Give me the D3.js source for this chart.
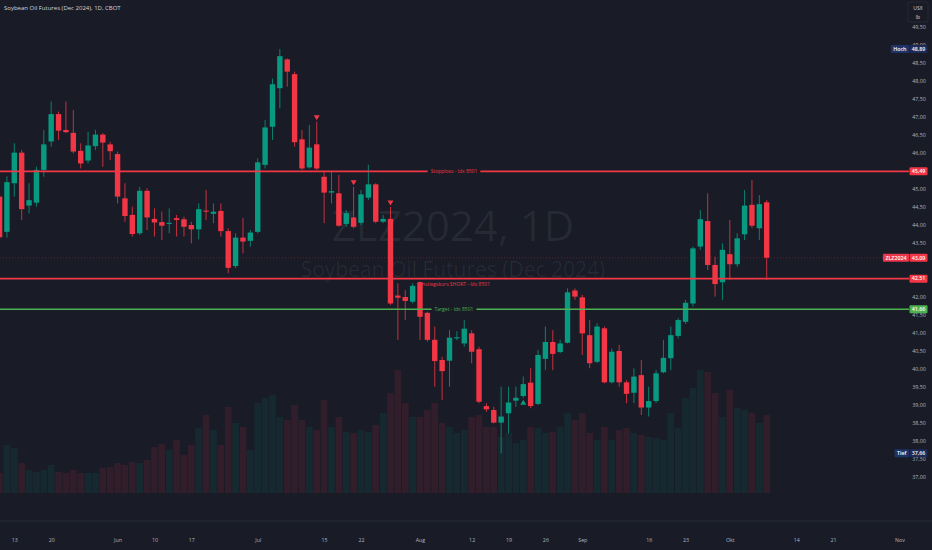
<!DOCTYPE html>
<html><head><meta charset="utf-8">
<script src="https://cdn.jsdelivr.net/npm/d3@7"></script>
<style>html,body{margin:0;padding:0;background:#191c27;overflow:hidden}svg{display:block}</style>
</head><body>
<svg id="c" width="932" height="550"></svg>
<script>
// ---- data ----
const dates = ["2024-05-09","2024-05-10","2024-05-13","2024-05-14","2024-05-15","2024-05-16","2024-05-17","2024-05-20","2024-05-21","2024-05-22","2024-05-23","2024-05-24","2024-05-28","2024-05-29","2024-05-30","2024-05-31","2024-06-03","2024-06-04","2024-06-05","2024-06-06","2024-06-07","2024-06-10","2024-06-11","2024-06-12","2024-06-13","2024-06-14","2024-06-17","2024-06-18","2024-06-20","2024-06-21","2024-06-24","2024-06-25","2024-06-26","2024-06-27","2024-06-28","2024-07-01","2024-07-02","2024-07-03","2024-07-05","2024-07-08","2024-07-09","2024-07-10","2024-07-11","2024-07-12","2024-07-15","2024-07-16","2024-07-17","2024-07-18","2024-07-19","2024-07-22","2024-07-23","2024-07-24","2024-07-25","2024-07-26","2024-07-29","2024-07-30","2024-07-31","2024-08-01","2024-08-02","2024-08-05","2024-08-06","2024-08-07","2024-08-08","2024-08-09","2024-08-12","2024-08-13","2024-08-14","2024-08-15","2024-08-16","2024-08-19","2024-08-20","2024-08-21","2024-08-22","2024-08-23","2024-08-26","2024-08-27","2024-08-28","2024-08-29","2024-08-30","2024-09-03","2024-09-04","2024-09-05","2024-09-06","2024-09-09","2024-09-10","2024-09-11","2024-09-12","2024-09-13","2024-09-16","2024-09-17","2024-09-18","2024-09-19","2024-09-20","2024-09-23","2024-09-24","2024-09-25","2024-09-26","2024-09-27","2024-09-30","2024-10-01","2024-10-02","2024-10-03","2024-10-04","2024-10-07","2024-10-08"];
const opens  = [44.79,43.81,45.16,46.01,44.54,44.62,45.53,46.32,47.08,46.64,46.56,46.06,45.79,46.19,46.51,46.24,45.97,44.74,44.28,43.77,44.95,44.17,44.08,44.03,44.19,44.16,44.00,43.88,44.40,44.31,44.39,43.83,42.86,43.65,43.56,43.81,45.67,46.73,47.80,48.60,48.19,46.38,45.60,46.24,45.34,44.90,44.88,44.03,44.21,44.06,44.76,45.13,44.09,44.17,42.04,42.00,41.87,42.41,41.56,40.81,40.25,40.23,40.85,40.71,40.99,40.55,38.97,38.86,38.51,38.77,39.12,39.25,39.62,39.03,40.28,40.75,40.47,40.73,42.18,41.99,40.94,40.20,41.13,39.63,40.50,39.63,39.34,39.83,38.93,39.11,39.91,40.30,40.92,41.31,41.82,43.40,44.11,42.89,42.41,43.19,42.91,43.74,44.56,43.91,44.63];
const highs  = [44.95,45.35,46.27,46.08,45.16,45.62,46.64,47.43,47.15,47.43,47.19,46.27,46.59,46.64,46.55,46.31,46.04,45.16,44.51,45.06,45.02,44.46,44.37,44.46,44.28,44.23,44.09,44.60,44.97,44.60,44.60,43.91,43.77,44.19,43.86,45.85,46.92,48.07,48.89,48.63,48.26,46.64,46.78,46.87,45.48,45.48,45.39,44.42,45.06,44.97,45.67,45.16,44.28,44.50,42.38,42.19,42.38,42.43,41.59,41.18,40.34,41.08,41.05,41.36,41.08,40.62,39.05,38.95,39.51,39.51,39.51,39.79,40.02,40.53,41.18,41.08,40.81,42.24,42.24,42.06,41.36,41.27,41.18,40.57,40.67,39.69,40.02,40.25,39.51,39.97,40.81,41.18,41.41,41.92,43.40,44.42,44.88,43.12,43.49,44.14,43.77,44.97,45.25,44.83,44.69];
const lows   = [43.50,43.65,44.79,44.14,44.32,44.51,45.34,46.18,46.36,46.55,45.99,45.57,45.71,46.08,45.62,45.81,44.60,44.09,43.68,43.72,43.86,43.68,43.58,43.77,43.68,43.68,43.49,43.60,44.14,44.05,43.68,42.66,42.80,43.21,43.40,43.77,45.57,46.36,47.24,47.84,46.18,45.53,45.57,45.53,44.05,44.60,43.95,43.95,43.91,44.00,44.69,44.05,44.05,41.78,40.81,41.36,41.82,40.81,40.76,39.51,39.14,39.51,40.80,40.62,40.16,39.05,38.81,38.49,37.66,38.21,38.95,39.19,38.91,39.00,39.97,39.97,40.44,40.71,41.92,40.39,40.02,40.16,39.60,39.60,39.51,39.05,39.05,38.72,38.68,39.05,39.88,39.97,40.85,41.25,41.73,43.31,42.75,42.01,41.92,42.47,42.84,43.58,43.91,43.58,42.47];
const closes = [43.66,45.19,46.01,44.44,44.69,45.53,46.24,47.08,46.62,46.58,46.04,45.71,46.21,46.51,46.29,46.05,44.79,44.25,43.75,44.95,44.21,44.07,43.98,44.06,44.14,43.95,43.88,44.44,44.37,44.37,43.83,42.81,43.65,43.54,43.79,45.74,46.71,47.91,48.69,48.26,46.30,45.57,46.15,45.57,44.90,44.94,43.98,44.33,43.95,44.85,45.13,44.09,44.17,41.82,41.98,41.89,42.31,41.45,40.81,40.22,39.94,40.87,40.88,41.12,40.48,39.09,38.88,38.51,38.68,39.07,39.20,39.58,38.97,40.39,40.75,40.42,40.71,42.13,42.01,40.99,40.16,41.18,39.63,40.48,39.63,39.31,39.79,38.93,39.11,39.88,40.31,40.94,41.36,41.84,43.35,44.16,42.89,42.36,43.31,42.91,43.63,44.54,43.98,44.58,43.09];
const volumes = [8000,19200,18000,12000,9200,8400,9200,11200,8400,8000,9200,8000,8000,8000,10000,10400,12000,11200,12400,12000,13200,18400,19600,17200,21200,15200,19200,26000,31200,25200,19200,34400,28000,26400,17200,36000,38000,39200,30400,29200,35200,29200,26400,25200,37200,26400,30400,24400,24000,25200,24400,27200,32000,40000,49200,36000,30400,30400,33200,36000,28000,26400,24000,25200,30400,31200,26400,26400,22400,24000,20000,21200,26400,26000,24000,24400,26400,32000,29200,32000,24000,21200,26400,21200,25200,26000,24000,23200,22400,22000,21200,32000,26000,38000,42000,49200,48400,40000,30400,41200,34000,33200,32000,28000,31200];

const tickBars   = [2,7,16,21,26,35,44,49,57,64,69,74,79,88,93,99,108,113,122];
const tickLabels = ["13","20","Jun","10","17","Jul","15","22","Aug","12","19","26","Sep","16","23","Okt","14","21","Nov"];
const priceTicks = [37,37.5,38,38.5,39,39.5,40,40.5,41,41.5,42,42.5,43,43.5,44,44.5,45,45.5,46,46.5,47,47.5,48,48.5,49,49.5];

const levelValues = [45.49, 42.51, 41.66];
const levelNames  = ["Stopploss - Idx 8501", "Einstiegskurs SHORT - Idx 8501", "Target - Idx 8501"];
const levelColors = ["#f23645", "#f23645", "#4caf50"];
const levelLabelBelow = [false, true, false];

const markerBars  = [43, 48, 53, 71];
const markerTypes = ["sell", "sell", "sell", "buy"];

const titleText = "Soybean Oil Futures (Dec 2024), 1D, CBOT";
const symbol = "ZLZ2024";
const highValue = 48.89, lowValue = 37.66;

// ---- drawing ----
const W = 932, H = 550;
const UP = "#089981", DOWN = "#f23645";
const FONT = "'Open Sans', 'Noto Sans', sans-serif";
const svg = d3.select("#c");
const fmt = v => v.toFixed(2).replace(".", ",");

const x = d3.scaleLinear().domain([2, 104]).range([14.3, 766.7]);
const y = d3.scaleLinear().domain([40, 48]).range([369, 81]);
const yv = d3.scaleLinear().domain([0, 49200]).range([493, 370]);

const n = dates.length;
const bars = d3.range(n).map(i => ({i, o: opens[i], h: highs[i], l: lows[i], c: closes[i], v: volumes[i], date: dates[i]}));
const paneRight = 909;
const last = bars[n - 1];

svg.append("rect").attr("width", W).attr("height", H).attr("fill", "#191c27");

// watermark
svg.append("text").attr("x", 453).attr("y", 241).attr("text-anchor", "middle")
  .attr("font-family", FONT).attr("font-size", 42).attr("fill", "#ffffff").attr("fill-opacity", 0.06)
  .text(symbol + ", 1D");
svg.append("text").attr("x", 453).attr("y", 276.5).attr("text-anchor", "middle")
  .attr("font-family", FONT).attr("font-size", 21).attr("fill", "#ffffff").attr("fill-opacity", 0.06)
  .text("Soybean Oil Futures (Dec 2024)");

// volume
svg.append("g").selectAll("rect").data(bars).join("rect")
  .attr("x", d => x(d.i) - 3.3).attr("width", 6.6)
  .attr("y", d => yv(d.v)).attr("height", d => yv(0) - yv(d.v))
  .attr("fill", d => d.c >= d.o ? UP : DOWN).attr("fill-opacity", 0.11);

// bottom separator
svg.append("line").attr("x1", 0).attr("x2", W).attr("y1", 521).attr("y2", 521)
  .attr("stroke", "#262a36").attr("stroke-width", 1);

// last price dotted line
svg.append("line").attr("x1", 0).attr("x2", paneRight - 26).attr("y1", y(last.c)).attr("y2", y(last.c))
  .attr("stroke", "#f23645").attr("stroke-opacity", 0.3).attr("stroke-dasharray", "1,2");

// candles
const cg = svg.append("g");
cg.selectAll("line").data(bars).join("line")
  .attr("x1", d => x(d.i)).attr("x2", d => x(d.i))
  .attr("y1", d => y(d.h)).attr("y2", d => y(d.l))
  .attr("stroke", d => d.c >= d.o ? UP : DOWN).attr("stroke-width", 1).attr("stroke-opacity", 0.8);
cg.selectAll("rect").data(bars).join("rect")
  .attr("x", d => x(d.i) - 2.7).attr("width", 5.4)
  .attr("y", d => y(Math.max(d.o, d.c)))
  .attr("height", d => Math.max(1, Math.abs(y(d.o) - y(d.c))))
  .attr("fill", d => d.c >= d.o ? UP : DOWN);

// markers
const mg = svg.append("g");
markerBars.forEach((b, k) => {
  const cx = x(b);
  if (markerTypes[k] === "sell") {
    const cy = y(highs[b]) - 4;
    mg.append("path").attr("d", `M${cx - 3},${cy - 2.5}L${cx + 3},${cy - 2.5}L${cx},${cy + 2.5}Z`).attr("fill", DOWN);
  } else {
    const cy = y(lows[b]) + 4;
    mg.append("path").attr("d", `M${cx - 3},${cy + 2.5}L${cx + 3},${cy + 2.5}L${cx},${cy - 2.5}Z`).attr("fill", UP);
  }
});

// level lines with labels
const lg = svg.append("g");
levelValues.forEach((v, k) => {
  const yy = y(v);
  const t = lg.append("text").attr("font-family", FONT).attr("font-size", 5)
    .attr("fill", levelColors[k]).text(levelNames[k]);
  const tw = t.node().getComputedTextLength();
  const cx = 454;
  if (levelLabelBelow[k]) {
    t.attr("x", cx).attr("y", yy + 7.5).attr("text-anchor", "middle");
    lg.append("line").attr("x1", 0).attr("x2", paneRight).attr("y1", yy).attr("y2", yy)
      .attr("stroke", levelColors[k]).attr("stroke-width", 1.6);
  } else {
    t.attr("x", cx).attr("y", yy + 1.8).attr("text-anchor", "middle");
    lg.append("line").attr("x1", 0).attr("x2", cx - tw / 2 - 3).attr("y1", yy).attr("y2", yy)
      .attr("stroke", levelColors[k]).attr("stroke-width", 1.6);
    lg.append("line").attr("x1", cx + tw / 2 + 3).attr("x2", paneRight).attr("y1", yy).attr("y2", yy)
      .attr("stroke", levelColors[k]).attr("stroke-width", 1.6);
  }
});

// title
svg.append("text").attr("x", 4).attr("y", 9.5).attr("font-family", FONT).attr("font-size", 6)
  .attr("fill", "#d1d4dc").text(titleText);

// price axis (labels fully hidden behind a badge are skipped)
const badgeValues = [highValue, levelValues[0], last.c, levelValues[1], levelValues[2], lowValue];
const shownTicks = priceTicks.filter(t => badgeValues.every(b => Math.abs(y(t) - y(b)) > 3.6));
const ya = svg.append("g").attr("transform", "translate(919,0)")
  .call(d3.axisRight(y).tickValues(shownTicks).tickFormat(fmt).tickSize(0).tickPadding(0));
ya.select(".domain").remove();
ya.selectAll("text").attr("text-anchor", "middle").attr("font-family", FONT).attr("font-size", 5.3)
  .attr("fill", "#b2b5be").attr("dy", "0.35em");

// time axis
const xa = svg.append("g").attr("transform", "translate(0,540)")
  .call(d3.axisBottom(x).tickValues(tickBars).tickFormat((d, i) => tickLabels[i]).tickSize(0).tickPadding(0));
xa.select(".domain").remove();
xa.selectAll("text").attr("font-family", FONT).attr("font-size", 5.3).attr("fill", "#b2b5be").attr("dy", "0.35em");

// unit box
svg.append("rect").attr("x", 908).attr("y", 2).attr("width", 20).attr("height", 20).attr("rx", 2)
  .attr("fill", "#191c27").attr("stroke", "#2a2e39").attr("stroke-width", 0.8);
svg.append("text").attr("x", 918).attr("y", 9.5).attr("text-anchor", "middle").attr("font-family", FONT)
  .attr("font-size", 5).attr("fill", "#d1d4dc").text("USX");
svg.append("text").attr("x", 918).attr("y", 18.5).attr("text-anchor", "middle").attr("font-family", FONT)
  .attr("font-size", 5).attr("fill", "#d1d4dc").text("lb");

// badges
function badge(v, fill, textFill, label, labelFill) {
  const yy = y(v);
  const g = svg.append("g");
  g.append("rect").attr("x", 909.5).attr("y", yy - 4).attr("width", 18).attr("height", 8).attr("rx", 1).attr("fill", fill);
  g.append("text").attr("x", 918.5).attr("y", yy).attr("dy", "0.35em").attr("text-anchor", "middle")
    .attr("font-family", FONT).attr("font-size", 5.3).attr("font-weight", 600).attr("fill", textFill).text(fmt(v));
  if (label) {
    const t = g.append("text").attr("font-family", FONT).attr("font-size", 5.3).attr("font-weight", 600)
      .attr("fill", textFill).text(label);
    const tw = t.node().getComputedTextLength();
    g.insert("rect", "text").attr("x", 909 - tw - 5).attr("y", yy - 4).attr("width", tw + 5).attr("height", 8)
      .attr("rx", 1).attr("fill", labelFill);
    t.attr("x", 909 - tw / 2 - 2.5).attr("y", yy).attr("dy", "0.35em").attr("text-anchor", "middle");
  }
}
badge(highValue, "#1c2b57", "#ffffff", "Hoch", "#1e3468");
badge(levelValues[0], "#f23645", "#ffffff");
badge(last.c, "#f23645", "#ffffff", symbol, "#e8364a");
badge(levelValues[1], "#f23645", "#ffffff");
badge(levelValues[2], "#4caf50", "#ffffff");
badge(lowValue, "#1c2b57", "#ffffff", "Tief", "#1e3468");
</script>
</body></html>
